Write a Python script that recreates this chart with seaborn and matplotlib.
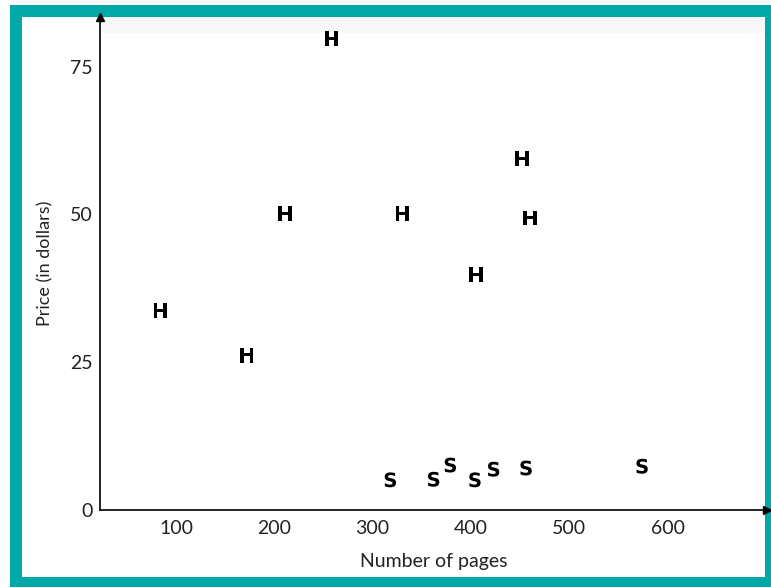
import pandas as pd
import matplotlib.pyplot as plt
from matplotlib.patches import Rectangle
import seaborn as sns

# hardcover (H) and softcover (S) books
pages_h = [84, 172, 211, 258, 330, 405, 452, 460]
price_h = [33.7, 26.2, 50.1, 79.7, 50.1, 39.8, 59.4, 49.4]
pages_s = [318, 362, 379, 404, 423, 456, 574]
price_s = [5.1, 5.2, 7.6, 5.1, 6.9, 7.1, 7.4]

xticks = [100, 200, 300, 400, 500, 600]
yticks = [0, 25, 50, 75]

df = pd.DataFrame({
    "pages": pages_h + pages_s,
    "price": price_h + price_s,
    "cover": ["H"] * len(pages_h) + ["S"] * len(pages_s),
})

sns.set_style("white")
plt.rcParams["font.family"] = ["Lato", "DejaVu Sans"]

teal = "#00a8a8"
fig = plt.figure(figsize=(7.71, 5.88), dpi=100)
W, H = 771, 588

# teal frame, kept behind the axes
fig.patches.append(Rectangle((10 / W, 1 / H), (W - 10) / W, (587 - 5) / H,
                             transform=fig.transFigure, facecolor=teal,
                             edgecolor="none", zorder=-10))
fig.patches.append(Rectangle((22 / W, (H - 577) / H), (765 - 22) / W, (577 - 17) / H,
                             transform=fig.transFigure, facecolor="white",
                             edgecolor="none", zorder=-9))
fig.patches.append(Rectangle((100 / W, (H - 33) / H), (765 - 100) / W, 16 / H,
                             transform=fig.transFigure, facecolor="#f8f8f8",
                             edgecolor="none", zorder=-8))

ax = fig.add_axes([100 / W, 1 - 510 / H, 667 / W, 493 / H])
ax.patch.set_alpha(0)

sns.scatterplot(data=df, x="pages", y="price", style="cover",
                markers={"H": r"$\mathbf{H}$", "S": r"$\mathbf{S}$"},
                color="black", s=115, linewidth=0, legend=False, ax=ax)

ax.set_xlim(22.7, 701)
ax.set_ylim(0, 83.4)
ax.set_xticks(xticks)
ax.set_yticks(yticks)
ax.tick_params(axis="both", direction="in", length=10, width=1.2,
               labelsize=14, color="black", labelcolor="#222222")
ax.tick_params(axis="x", pad=7)
ax.tick_params(axis="y", pad=5)

for side in ["top", "right"]:
    ax.spines[side].set_visible(False)
for side in ["left", "bottom"]:
    ax.spines[side].set_linewidth(1.2)
    ax.spines[side].set_color("black")

# arrow heads at the axis ends
ax.plot(1, 0, ">k", transform=ax.transAxes, clip_on=False, markersize=6)
ax.plot(0, 1, "^k", transform=ax.transAxes, clip_on=False, markersize=6)

ax.set_xlabel("Number of pages", fontsize=14, color="#222222", labelpad=12)
ax.set_ylabel("Price (in dollars)", fontsize=13, color="#222222", labelpad=12)

fig.savefig("out.png", dpi=100)
